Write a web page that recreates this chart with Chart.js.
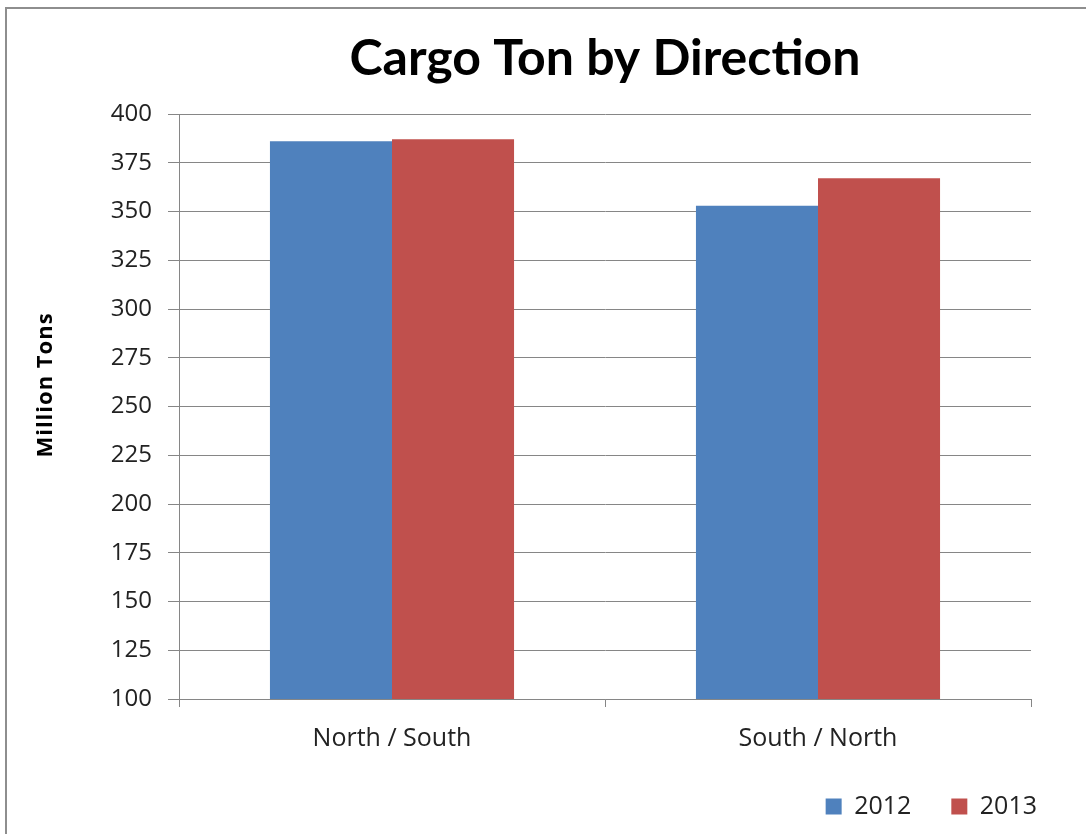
<!DOCTYPE html>
<html>
<head>
<meta charset="utf-8">
<script src="https://cdn.jsdelivr.net/npm/chart.js@4.4.1/dist/chart.umd.min.js"></script>
<style>
  html, body { margin: 0; padding: 0; background: #fff; overflow: hidden; }
  #wrap { position: relative; width: 1086px; height: 834px; overflow: hidden; }
  #frame { position: absolute; left: 5px; top: 7px; right: 0; bottom: 0; border-left: 2px solid #8e8e8e; border-top: 2px solid #8e8e8e; pointer-events: none; }
</style>
</head>
<body>
<div id="wrap">
  <canvas id="myChart" width="1086" height="834"></canvas>
  <div id="frame"></div>
</div>
<script>
const titleText = 'Cargo Ton by Direction';
const yTitleText = 'Million Tons';
const categories = ['North / South', 'South / North'];
const years = ['2012', '2013'];
const values2012 = [386, 353];
const values2013 = [387, 367];
const yMin = 100;
const yMax = 400;
const yStep = 25;

const font = 'Open Sans';

// chart title sits centred over the plot area, y title is drawn a bit stretched
const extraTitles = {
  id: 'extraTitles',
  afterDraw(chart) {
    const { ctx, chartArea } = chart;
    ctx.save();
    ctx.font = 'bold 50px Lato';
    ctx.fillStyle = '#000';
    ctx.textAlign = 'center';
    ctx.textBaseline = 'alphabetic';
    ctx.fillText(titleText, (chartArea.left + chartArea.right) / 2, 75);
    ctx.restore();

    ctx.save();
    ctx.translate(46, 385);
    ctx.rotate(-Math.PI / 2);
    ctx.font = 'bold 22px ' + font;
    ctx.letterSpacing = '1px';
    ctx.fillStyle = '#000';
    ctx.textAlign = 'center';
    ctx.textBaseline = 'middle';
    ctx.fillText(yTitleText, 0, 0);
    ctx.restore();
  },
};

const ctx = document.getElementById('myChart').getContext('2d');
const myChart = new Chart(ctx, {
  type: 'bar',
  data: {
    labels: categories,
    datasets: [
      {
        label: years[0],
        data: values2012,
        backgroundColor: '#4f81bd',
      },
      {
        label: years[1],
        data: values2013,
        backgroundColor: '#c0504d',
      },
    ],
  },
  plugins: [extraTitles],
  options: {
    responsive: false,
    animation: false,
    layout: {
      padding: { top: 114, right: 9, left: 26, bottom: 5 },
    },
    datasets: {
      bar: {
        barPercentage: 1,
        categoryPercentage: 0.573,
      },
    },
    plugins: {
      title: { display: false },
      tooltip: { enabled: false },
      legend: {
        position: 'bottom',
        align: 'end',
        labels: {
          boxWidth: 16,
          boxHeight: 16,
          padding: 40,
          color: '#222',
          font: { family: font, size: 25 },
        },
      },
    },
    scales: {
      x: {
        afterFit(axis) { axis.height = 55; },
        grid: {
          offset: true,
          drawOnChartArea: false,
          drawTicks: true,
          tickLength: 8,
          color: '#868686',
        },
        border: { color: '#868686' },
        ticks: {
          color: '#222',
          padding: 17,
          font: { family: font, size: 25 },
        },
      },
      y: {
        min: yMin,
        max: yMax,
        afterFit(axis) { axis.width = 153; },
        grid: {
          color: '#868686',
          tickLength: 11,
        },
        border: { color: '#868686' },
        ticks: {
          stepSize: yStep,
          color: '#222',
          padding: 16,
          font: { family: font, size: 24 },
        },
      },
      // empty right-hand strip so the legend can run further right than the plot
      yRight: {
        position: 'right',
        afterFit(axis) { axis.width = 46; },
        grid: { display: false },
        border: { display: false },
        ticks: { display: false },
      },
    },
  },
});
</script>
</body>
</html>
